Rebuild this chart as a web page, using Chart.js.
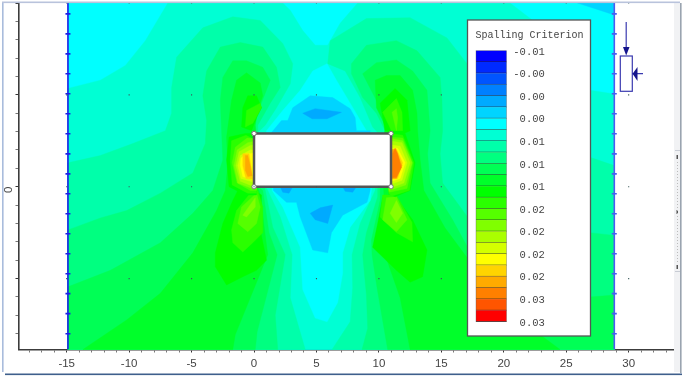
<!DOCTYPE html>
<html><head><meta charset="utf-8">
<style>html,body{margin:0;padding:0;background:#fff;overflow:hidden}#w{width:685px;height:377px;position:relative}canvas{display:block;filter:blur(0.35px)}</style>
<script src="https://cdn.jsdelivr.net/npm/chart.js@4/dist/chart.umd.min.js"></script>
</head><body><div id="w"><canvas id="c" width="685" height="377"></canvas></div>
<script>
// Legend
const legendTitle = "Spalling Criterion";
const legendLabels = ["-0.01","-0.00","0.00","0.00","0.01","0.01","0.01","0.02","0.02","0.02","0.02","0.03","0.03"];
const bandColors = ["#0000ff","#002aff","#0055ff","#0080ff","#00aaff","#00d4ff","#00ffff","#00ffd4","#00ffaa","#00ff80","#00ff55","#00ff2a","#00ff00","#2aff00","#55ff00","#80ff00","#aaff00","#d4ff00","#ffff00","#ffd400","#ffaa00","#ff8000","#ff5500","#ff0000"];
// Axes
const xMajor = [-15,-10,-5,0,5,10,15,20,25,30];
const yMajor = [10,5,0,-5];
const boundaryLeft = -14.9, boundaryRight = 28.85, domainTop = 10, domainBottom = -8.86;
const boundaryTicks = [9.41,8.32,7.23,6.15,5.06,3.97,2.88,1.79,0.7,-0.38,-1.47,-2.56,-3.65,-4.74,-5.82,-6.91,-8.0];
const opening = [0,2.9,10.97,2.9,10.97,0,0,0,0,2.9];
// Contour band outlines (x,y pairs)
const domain = [-14.9,10,28.85,10,28.85,-8.86,-14.9,-8.86];
const c5Corner = [25.9,10,28.85,10,28.85,9.35];
const c7Main = [-14.9,5.35,-12.3,5.8,-10.3,6.6,-8.7,7.95,-6.9,10,2.3,10,2.9,9.6,3.9,8.5,4.9,7.7,5.9,7.7,6.9,8.9,8.3,10,20.5,10,22.9,8.75,26.9,5.25,28.85,5.05,28.85,-8.86,-14.9,-8.86];
const c8Left = [-14.9,1.3,-12.3,1.7,-9.7,2.35,-7.1,3.05,-6.6,4,-6.6,5.4,-6.2,7.05,-4.1,8.65,-1.7,9.25,0.5,9.05,2.3,7.8,3.1,6.7,2.9,5.6,1.8,4.3,0.9,3.35,0.3,2.95,0.3,2,0.5,0.5,1.1,-0.2,2.1,-1.65,3.05,-3.7,2.9,-6.05,4.1,-8.86,-14.9,-8.86];
const c8Right = [9.9,2.95,9.5,3.25,8.5,4.85,7.3,6.3,5.9,6.7,6.1,7.95,9,9.15,12.5,9.2,15.45,8.1,17.05,6.7,26.9,1.6,28.85,1.15,28.85,-8.86,6.25,-8.86,7.7,-7.35,7.9,-5.5,7.85,-3.7,8.5,-2,9.7,-0.2,9.7,1.5];
const c9Left = [-14.9,-2.35,-12.3,-1.7,-10.2,-1.3,-7.5,-0.35,-4.9,0.75,-3.9,2.35,-3.8,3.6,-4.1,4.95,-3.8,6.3,-2.7,7.6,-1.1,7.85,0.7,7.6,1.8,6.5,2.1,5.4,1.3,4.55,0.3,3.35,0.3,2,0.9,-0.2,1.5,-2.2,2.5,-3.7,1.7,-7,1.9,-8.86,-14.9,-8.86];
const c9Right = [10.5,3.05,9.8,4,8.7,4.85,7.8,6.15,7.8,6.7,9,7.7,11.4,7.95,13.05,7.4,14.9,5.95,15.05,4.7,15.1,3.05,14.9,1.8,15.1,0.2,17.1,-1.65,26.9,-2.5,28.85,-2.65,28.85,-8.86,8.65,-8.86,9.1,-7.7,9,-5.9,8.7,-3.7,9,-2.5,9.9,-0.55,9.9,1.5];
const c10Left = [-14.9,-5.45,-11.5,-4.55,-7.5,-3.05,-4.9,-1.45,-3.3,-0.2,-2.5,1.45,-2.6,3.05,-2.7,4.7,-2.5,5.95,-1.7,6.85,-0.6,6.85,0.7,6.5,1.3,5.8,0.5,4.4,-0.3,3.35,0.3,2,0.3,0,0.7,-0.2,1.2,-2.5,1.85,-3.7,0.25,-7.9,0.1,-8.86,-14.9,-8.86];
const c10Right = [10.1,4.3,8.7,6.15,9.8,6.75,11.4,6.9,12.7,6.3,13.85,5.25,14.1,3.05,13.9,1.8,14.1,0.2,15.9,-1.8,17.1,-3.3,26.9,-6,28.85,-5.9,28.85,-8.86,10.7,-8.86,9.85,-5.5,9.45,-3.7,9.4,-2.9,10.1,-0.75,10.1,1.5,10.5,3.05];
const c11Left = [-13.7,-8.86,-10.2,-7.25,-7.5,-5.8,-4.9,-3.6,-3,-1.3,-2.3,-0.2,-2.1,1.15,-2.2,2.7,-1.8,4.7,-1.4,5.8,-0.6,6.2,0.5,5.65,0.7,4.95,0.3,4.15,0.1,3.35,0.3,2,0.3,0,0.5,-0.45,0.9,-2.65,1.1,-3.7,-1.5,-8.05,-1.7,-8.86];
const c11Right = [12.5,-8.86,11.7,-6.05,10.5,-3.7,10.15,-2.1,10.4,-0.45,10.3,1.5,10.5,3.35,9.8,4.3,9.7,5.8,10.6,6.05,11.7,6.05,12.7,5.25,13.05,4,13.1,3.05,13.3,1.45,13.6,-0.2,15.3,-2.25,17.1,-3.9,23.1,-8.15,24.5,-8.86];
const c12LowerLeft = [-2.2,-5.35,-3.1,-4.35,-3.1,-3.6,-2.5,-2,-1.7,-0.75,-1.3,-0.2,0,-0.2,0.6,-0.45,0.5,-2.35,1,-4,0.2,-4.55,-0.9,-4.9];
const c13LowerLeft = [-1.7,-3.05,-1.8,-2.35,-1.4,-1.3,-0.3,-0.35,0.3,-0.2,0.7,-1.1,0.7,-2.5,-0.1,-3.05,-0.9,-3.55];
const c14LowerLeft = [-1.3,-2,-1,-1.1,0.2,-0.35,0.5,-1.1,0.2,-2,-0.5,-2.45];
const c15LowerLeft = [-0.9,-1.55,0.1,-0.6,0.1,-1.1,-0.6,-1.65];
const c12LowerRight = [9.9,-2,9.5,-3.3,11.4,-4.55,12.5,-5.2,13.5,-4.9,13.85,-3.45,12.7,-1.8,11.4,-0.6,10.3,-0.6];
const c13LowerRight = [10.1,-1.65,11.4,-2.5,12.7,-3,12.65,-1.95,11.4,-0.45,10.3,-0.45];
const c14LowerRight = [10.3,-1.8,11.4,-2.45,12.25,-1.8,11.4,-0.55,10.6,-0.6];
const c15LowerRight = [10.9,-1.45,11.4,-1.95,11.9,-1.45,11.4,-0.75];
const c12UpperLeft = [-0.9,4.3,-0.5,4.95,0.2,4.95,0.6,4.3,0.2,3.75,-0.2,3.05,-1,3.25];
const c13UpperLeft = [-0.6,4.15,0.5,4.55,0.6,4.3,-0.1,3.45,-0.7,3.25];
const c12UpperRight = [10.1,4.55,11.3,5.35,12.25,4.7,12.5,3.05,11.7,2.8,10.5,3.05];
const c13UpperRight = [10.3,4.05,11.4,4.8,11.85,4.05,11.9,3.05,11,3.05];
const c14UpperRight = [11.05,4.05,11.4,4.25,11.5,3.75,11.4,3.05];
const peakL12 = [-2,2.7,-2.2,1.45,-2,0,-0.7,-0.45,0.2,-0.45,0.2,2.9,-0.7,2.9];
const peakL13 = [-1.8,2.5,-1.9,1.45,-1.75,0.1,-0.5,-0.35,0.2,-0.35,0.2,2.5,-0.65,2.8];
const peakL14 = [-1.5,2.15,-1.75,1.3,-1.35,0.2,-0.3,-0.2,0.2,-0.2,0.2,2.6,-0.55,2.65];
const peakL15 = [-1.35,2,-1.6,1.15,-1.3,0.2,-0.15,-0.1,0.2,-0.1,0.2,2.5,-0.5,2.4];
const peakL16 = [-1.2,1.9,-1.45,1.15,-1.1,0.3,0,0,0.2,0,0.2,2.3,-0.3,2.25];
const peakL17 = [-1.1,1.7,-1.3,1.15,-1.05,0.45,0.2,0.2,0.2,2,-0.3,2];
const peakL18 = [-1.05,1.55,-1.1,1.15,-0.9,0.55,0,0.35,0.2,1.9,-0.3,1.8,-0.65,1.8];
const peakL19 = [-0.9,1.8,-0.9,1.15,-0.65,0.45,-0.1,0.4,-0.25,1.15,-0.4,1.8];
const peakL20 = [-0.7,1.7,-0.7,0.9,-0.5,0.55,-0.15,0.6,-0.3,1.15,-0.5,1.7];
const peakR12 = [10.8,2.9,12.1,2.9,12.9,1.3,12.5,-0.2,11.3,-0.55,10.8,-0.4];
const peakR13 = [10.8,2.9,11.9,2.8,12.8,1.3,12.45,-0.2,11.05,-0.5,10.8,-0.4];
const peakR14 = [10.8,2.7,11.9,2.65,12.7,1.3,12.25,-0.1,10.8,-0.3];
const peakR15 = [10.8,2.65,11.9,2.5,12.65,1.3,12.15,0.1,10.8,-0.2];
const peakR16 = [10.8,2.5,11.85,2.4,12.5,1.3,12,0.2,10.8,-0.1];
const peakR17 = [10.8,2.3,11.7,2.2,12.25,1.3,11.85,0.35,10.8,0.1];
const peakR18 = [10.8,2.1,11.5,2.1,12.1,1.3,11.7,0.45,10.8,0.25];
const peakR19 = [10.8,2,11.4,2.05,11.9,1.3,11.5,0.45,10.8,0.4];
const peakR20 = [10.8,2,11.3,2.05,11.85,1.15,11.4,0.45,10.8,0.45];
const peakR21 = [11.1,1.8,11.3,2.1,11.5,1.8,11.8,1.05,11.4,0.5,11.1,0.5];
const topC6 = [5.85,6.7,4.7,6.3,3.7,5.25,2.3,4.15,1,3.05,1,2.5,9.5,2.5,9,3.05,7.7,4.55,6.6,5.8];
const topC5 = [4.5,4.95,3.1,4.3,2.7,3.6,2.2,3.6,1.4,2.95,1.4,2.5,9.3,2.5,9.3,3.05,8.2,3.05,8.1,3.75,7.7,4.25,6.3,4.85];
const topC4 = [3.9,4,4.9,4.25,7,4.05,5.85,3.7,4.65,3.7];
const lowC6 = [1.45,-0.2,2.3,-1.1,3.7,-3.3,3.9,-5.6,4.9,-7.15,5.85,-7.35,6.7,-6.3,7.1,-4.7,7.1,-3.6,7.7,-2.2,9.3,-0.75,9.4,-0.2,9.4,1,1.45,1];
const lowC5 = [1.55,-0.2,2.6,-0.85,3.4,-0.85,3.7,-1.65,4.7,-3.45,5.9,-3.6,6.2,-2.5,7.1,-1.55,9.05,-0.85,9.3,-0.2,9.3,1,1.55,1];
const lowC4 = [4.5,-1.45,4.9,-1.8,5.9,-2,6.3,-1,5.3,-1.15];
const lowStripA = [2.1,0,3.1,0,2.8,-0.35,2.3,-0.3];
const lowStripB = [7.1,0,8.2,0,7.9,-0.3,7.3,-0.25];

const paintOrder = [[6,domain],[5,c5Corner],[7,c7Main],[8,c8Left],[8,c8Right],[9,c9Left],[9,c9Right],[10,c10Left],[10,c10Right],[11,c11Left],[11,c11Right],
 [12,c12LowerLeft],[13,c13LowerLeft],[14,c14LowerLeft],[15,c15LowerLeft],[12,c12LowerRight],[13,c13LowerRight],[14,c14LowerRight],[15,c15LowerRight],
 [12,c12UpperLeft],[13,c13UpperLeft],[12,c12UpperRight],[13,c13UpperRight],[14,c14UpperRight],
 [12,peakL12],[13,peakL13],[14,peakL14],[15,peakL15],[16,peakL16],[17,peakL17],[18,peakL18],[19,peakL19],[20,peakL20],
 [12,peakR12],[13,peakR13],[14,peakR14],[15,peakR15],[16,peakR16],[17,peakR17],[18,peakR18],[19,peakR19],[20,peakR20],[21,peakR21],
 [6,topC6],[5,topC5],[4,topC4],[6,lowC6],[5,lowC5],[4,lowC4],[4,lowStripA],[4,lowStripB]];

function pairs(a){const o=[];for(let i=0;i<a.length;i+=2)o.push({x:a[i],y:a[i+1]});return o;}
const datasets = paintOrder.map(([ci,pts])=>({type:'line',data:pairs(pts),polygonFill:bandColors[ci],borderWidth:0,pointRadius:0,tension:0,fill:false}));
// Opening in the rock mass
datasets.push({type:'line',data:pairs(opening),polygonFill:'#ffffff',borderColor:'#555',borderWidth:2.5,tension:0,fill:false,pointRadius:2.2,pointBackgroundColor:'#fff',pointBorderColor:'#777',pointBorderWidth:1});
// Domain boundaries and their ticks
datasets.push({type:'line',data:[{x:boundaryLeft,y:domainTop},{x:boundaryLeft,y:domainBottom}],borderColor:'#1c1ce6',borderWidth:1.6,pointRadius:0});
datasets.push({type:'line',data:[{x:boundaryRight,y:domainTop},{x:boundaryRight,y:domainBottom}],borderColor:'#4a5cf0',borderWidth:1.6,pointRadius:0});
datasets.push({type:'line',showLine:false,data:boundaryTicks.map(y=>({x:boundaryLeft,y})),pointStyle:'line',pointRadius:2.5,pointBorderColor:'#1c1ce6',pointBorderWidth:1.6});
datasets.push({type:'line',showLine:false,data:boundaryTicks.map(y=>({x:boundaryRight,y})),pointStyle:'line',pointRadius:2.5,pointBorderColor:'#4a5cf0',pointBorderWidth:1.6});
// Grid dots
const gridDots=[];xMajor.forEach(x=>yMajor.forEach(y=>gridDots.push({x,y})));
datasets.push({type:'line',showLine:false,data:gridDots,pointStyle:'rect',pointRadius:0.8,pointBackgroundColor:'#3a5a5a',pointBorderWidth:0});
datasets.forEach((d,i)=>{d.order=datasets.length-i;});

const polygonFill={id:'polygonFill',beforeDatasetDraw(chart,args){
  const ds=chart.data.datasets[args.index];if(!ds.polygonFill)return;
  const c=chart.ctx,pts=args.meta.data;
  c.save();c.beginPath();pts.forEach((p,i)=>i?c.lineTo(p.x,p.y):c.moveTo(p.x,p.y));c.closePath();
  c.fillStyle=ds.polygonFill;c.fill();
  if(ds.polygonFill!=='#ffffff'){c.strokeStyle=ds.polygonFill;c.lineWidth=0.4;c.stroke();}
  c.restore();
}};
const frame={id:'frame',
 beforeDraw(ch){const c=ch.ctx;c.save();c.fillStyle='#fff';c.fillRect(0,0,685,377);c.restore();},
 afterDraw(ch){const c=ch.ctx;c.save();
  // window frame
  c.fillStyle='#f1f2f4';c.fillRect(674,3,6,369);
  c.fillStyle='#a9bcdc';c.fillRect(2,2,1.6,370);
  c.fillStyle='#b9c3dc';c.fillRect(2,1.5,678,1.6);
  c.fillStyle='#9aa4b0';c.fillRect(680,3,1.6,370);
  c.fillStyle='#3f5f8c';c.fillRect(5,373.5,677,1.6);
  c.fillStyle='#c8ccd4';c.fillRect(675,150,5,1);c.fillRect(675,271,5,1);
  c.fillStyle='#555';c.fillRect(676.5,155,1.5,4);c.fillRect(676.5,210,1.5,4);c.fillRect(676.5,265,1.5,4);
  c.fillStyle='#bbb';for(let y=162;y<264;y+=3)c.fillRect(677,y,1,1);
  // legend panel
  c.fillStyle='#fff';c.fillRect(467.5,20,123,316);
  c.strokeStyle='#555';c.lineWidth=1.3;c.strokeRect(467.5,20,123,316);
  c.fillStyle='#444';c.font='10px "Liberation Mono"';c.textAlign='left';c.textBaseline='middle';
  c.fillText(legendTitle,475.5,35);
  const top=50.7,h=(321.7-50.7)/bandColors.length;
  bandColors.forEach((col,i)=>{c.fillStyle=col;c.fillRect(476,top+i*h,30.5,h);c.fillStyle='rgba(40,40,40,.75)';c.fillRect(476,top+(i+1)*h-0.6,30.5,0.9);});
  c.strokeStyle='rgba(90,90,90,.6)';c.lineWidth=.6;c.strokeRect(476,top,30.5,h*bandColors.length);
  c.fillStyle='#444';c.font='10.5px "Liberation Mono"';c.textAlign='right';
  legendLabels.forEach((t,i)=>c.fillText(t,544.8,52+i*22.56));
  // load symbol
  c.strokeStyle='#3a3ab0';c.lineWidth=1.2;c.strokeRect(620.3,56,12,35.3);
  c.beginPath();c.moveTo(626.2,22);c.lineTo(626.2,47);c.moveTo(632,73.7);c.lineTo(643,73.7);c.stroke();
  c.fillStyle='#14148c';c.beginPath();c.moveTo(623,47);c.lineTo(629.5,47);c.lineTo(626.2,55.5);c.closePath();c.fill();
  c.beginPath();c.moveTo(632.6,73.7);c.lineTo(637.5,67);c.lineTo(637.5,81);c.closePath();c.fill();
  c.restore();
 }};
const tickFont={family:'"Liberation Sans Narrow","Liberation Sans",sans-serif',size:11.5};
new Chart(document.getElementById('c'),{
 data:{datasets},
 plugins:[frame,polygonFill],
 options:{responsive:false,animation:false,events:[],
  layout:{autoPadding:false,padding:{left:0,right:12,top:3,bottom:0}},
  plugins:{legend:{display:false},tooltip:{enabled:false},title:{display:false}},
  scales:{
   x:{type:'linear',min:-18.86,max:33.55,
      afterFit(s){s.height=27.5;s.paddingLeft=0;s.paddingRight=0;},
      border:{display:true,color:'#3c3c3c',width:1.6},
      grid:{drawOnChartArea:false,drawTicks:true,tickLength:3,tickColor:c=>c.tick&&c.tick.value%5===0?'#333':'#777',tickWidth:1},
      ticks:{stepSize:1,includeBounds:false,autoSkip:false,maxRotation:0,padding:4,color:'#444',font:tickFont,callback:v=>xMajor.includes(v)?String(v):''}},
   y:{type:'linear',min:-8.86,max:10,
      afterFit(s){s.width=18.5;s.paddingTop=0;s.paddingBottom=0;},
      border:{display:true,color:'#3c3c3c',width:1.6},
      grid:{drawOnChartArea:false,drawTicks:true,tickLength:3,tickColor:c=>c.tick&&c.tick.value%5===0?'#333':'#777',tickWidth:1},
      ticks:{stepSize:1,includeBounds:false,autoSkip:false,minRotation:90,maxRotation:90,padding:7,color:'#444',font:tickFont,callback:v=>v===0?'0':''}}
  }
 }
});
</script></body></html>
